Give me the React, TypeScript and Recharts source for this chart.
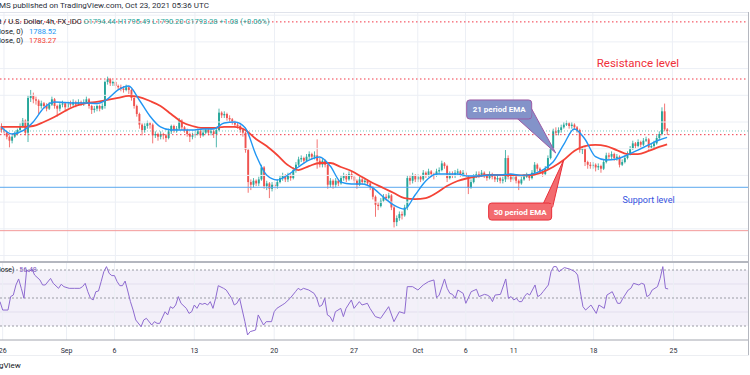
import React from 'react';
import { ComposedChart, Bar, Line, XAxis, YAxis, ReferenceLine, ReferenceArea, ReferenceDot } from 'recharts';

// ---- 4h candles (XAU/USD), Aug 25 .. Oct 22 2021 ----
const firstOpen = 1797;
const closes = [
  1794, 1792, 1789, 1786, 1789, 1791, 1794, 1797, 1801, 1792,
  1818, 1820, 1817, 1816, 1812, 1814, 1812, 1810, 1813, 1817,
  1812, 1810, 1813, 1814, 1811, 1814, 1813, 1815, 1813, 1815,
  1814, 1815, 1817, 1812, 1809, 1810, 1812, 1810, 1812, 1830,
  1832, 1829, 1830, 1827, 1826, 1825, 1824, 1826, 1824, 1818,
  1812, 1806, 1798, 1794, 1797, 1799, 1798, 1790, 1791, 1789,
  1791, 1790, 1788, 1793, 1797, 1794, 1795, 1801, 1796, 1794,
  1791, 1789, 1790, 1791, 1793, 1790, 1792, 1794, 1792, 1793,
  1791, 1794, 1807, 1805, 1806, 1803, 1802, 1800, 1798, 1797,
  1794, 1792, 1779, 1755, 1753, 1756, 1754, 1757, 1766, 1752,
  1754, 1750, 1753, 1752, 1755, 1758, 1760, 1757, 1760, 1758,
  1764, 1768, 1772, 1773, 1771, 1774, 1776, 1774, 1775, 1771,
  1768, 1771, 1768, 1753, 1756, 1753, 1756, 1754, 1758, 1760,
  1757, 1761, 1759, 1756, 1753, 1757, 1755, 1756, 1754, 1751,
  1744, 1738, 1737, 1741, 1744, 1743, 1745, 1736, 1725, 1728,
  1731, 1730, 1736, 1758, 1756, 1760, 1757, 1759, 1757, 1762,
  1760, 1763, 1761, 1760, 1763, 1764, 1769, 1767, 1758, 1761,
  1760, 1762, 1763, 1761, 1762, 1759, 1751, 1755, 1759, 1761,
  1760, 1762, 1760, 1758, 1761, 1759, 1757, 1758, 1756, 1757,
  1773, 1759, 1757, 1759, 1756, 1754, 1757, 1759, 1760, 1758,
  1762, 1768, 1765, 1763, 1761, 1765, 1773, 1780, 1793, 1792,
  1794, 1796, 1798, 1799, 1797, 1798, 1796, 1794, 1779, 1780,
  1770, 1768, 1767, 1768, 1766, 1767, 1765, 1770, 1775, 1774,
  1776, 1773, 1774, 1768, 1770, 1773, 1776, 1780, 1784, 1782,
  1785, 1783, 1786, 1787, 1781, 1782, 1784, 1788, 1791, 1808,
  1794.44, 1793.28,
];
const highs = [
  1799, 1796, 1793, 1790, 1790, 1793, 1795, 1799, 1803, 1802,
  1820, 1824, 1822, 1819, 1817, 1816, 1815, 1814, 1815, 1819,
  1818, 1813, 1815, 1816, 1815, 1816, 1816, 1817, 1816, 1817,
  1816, 1817, 1819, 1818, 1813, 1812, 1813, 1813, 1814, 1831,
  1834, 1833, 1831, 1831, 1828, 1828, 1827, 1828, 1827, 1825,
  1819, 1813, 1807, 1799, 1799, 1801, 1800, 1799, 1793, 1792,
  1793, 1792, 1791, 1795, 1798, 1798, 1797, 1803, 1802, 1797,
  1795, 1792, 1792, 1793, 1795, 1794, 1794, 1796, 1795, 1795,
  1794, 1796, 1810, 1808, 1808, 1807, 1805, 1803, 1801, 1800,
  1798, 1795, 1793, 1780, 1757, 1758, 1757, 1759, 1768, 1767,
  1756, 1755, 1755, 1755, 1757, 1760, 1762, 1761, 1762, 1761,
  1766, 1770, 1774, 1775, 1774, 1776, 1778, 1777, 1778, 1787,
  1773, 1773, 1772, 1769, 1758, 1757, 1758, 1757, 1760, 1762,
  1761, 1763, 1763, 1760, 1757, 1759, 1758, 1758, 1757, 1755,
  1752, 1745, 1740, 1743, 1746, 1746, 1747, 1746, 1737, 1730,
  1733, 1733, 1738, 1760, 1760, 1762, 1761, 1761, 1760, 1764,
  1763, 1765, 1764, 1762, 1765, 1766, 1771, 1770, 1768, 1763,
  1763, 1764, 1765, 1764, 1764, 1763, 1760, 1757, 1761, 1763,
  1763, 1764, 1763, 1761, 1763, 1762, 1760, 1760, 1759, 1759,
  1779, 1775, 1761, 1761, 1760, 1757, 1759, 1761, 1762, 1761,
  1764, 1770, 1769, 1766, 1764, 1767, 1775, 1782, 1795, 1796,
  1796, 1798, 1800, 1801, 1800, 1800, 1799, 1797, 1795, 1782,
  1781, 1771, 1770, 1770, 1769, 1769, 1768, 1772, 1777, 1777,
  1778, 1777, 1776, 1775, 1772, 1775, 1778, 1782, 1786, 1785,
  1787, 1786, 1788, 1789, 1788, 1784, 1786, 1790, 1793, 1811,
  1813.8, 1795.49,
];
const lows = [
  1792, 1790, 1787, 1781, 1784, 1788, 1790, 1793, 1796, 1790,
  1785, 1815, 1814, 1813, 1806, 1810, 1810, 1808, 1809, 1812,
  1810, 1804, 1808, 1811, 1809, 1810, 1811, 1812, 1811, 1812,
  1812, 1812, 1814, 1810, 1806, 1807, 1808, 1808, 1809, 1810,
  1828, 1827, 1827, 1825, 1824, 1823, 1822, 1823, 1821, 1816,
  1810, 1804, 1795, 1790, 1792, 1795, 1795, 1784, 1788, 1786,
  1787, 1787, 1785, 1787, 1791, 1792, 1792, 1794, 1794, 1792,
  1789, 1785, 1787, 1788, 1790, 1788, 1789, 1791, 1790, 1790,
  1788, 1781, 1793, 1803, 1803, 1801, 1800, 1798, 1796, 1795,
  1792, 1789, 1777, 1747, 1749, 1751, 1752, 1752, 1756, 1750,
  1749, 1743, 1748, 1749, 1750, 1754, 1756, 1755, 1755, 1756,
  1757, 1762, 1767, 1770, 1769, 1770, 1772, 1772, 1772, 1765,
  1766, 1766, 1766, 1750, 1751, 1750, 1751, 1752, 1753, 1756,
  1755, 1756, 1757, 1754, 1750, 1752, 1753, 1753, 1752, 1749,
  1742, 1729, 1734, 1736, 1740, 1741, 1742, 1734, 1721, 1722,
  1726, 1727, 1729, 1734, 1753, 1754, 1755, 1755, 1755, 1756,
  1758, 1759, 1759, 1757, 1759, 1761, 1763, 1765, 1755, 1757,
  1758, 1758, 1760, 1759, 1759, 1757, 1746, 1750, 1754, 1758,
  1758, 1759, 1758, 1756, 1757, 1757, 1755, 1755, 1754, 1754,
  1755, 1757, 1755, 1756, 1754, 1749, 1753, 1756, 1758, 1756,
  1757, 1761, 1763, 1761, 1759, 1760, 1764, 1772, 1779, 1790,
  1790, 1792, 1795, 1797, 1795, 1795, 1794, 1792, 1777, 1776,
  1767, 1765, 1765, 1765, 1763, 1764, 1762, 1764, 1769, 1772,
  1772, 1771, 1771, 1766, 1767, 1769, 1772, 1775, 1779, 1780,
  1781, 1781, 1782, 1785, 1779, 1779, 1780, 1783, 1787, 1790,
  1793, 1790.2,
];

// ---- EMA lines read at every 4th bar ----
const emaIdx = [
  0, 4, 8, 12, 16, 20, 24, 28, 32, 36, 40, 44, 48, 52, 56, 60, 64, 68, 72, 76,
  80, 84, 88, 92, 96, 100, 104, 108, 112, 116, 120, 124, 128, 132, 136, 140, 144, 148, 152, 156,
  160, 164, 168, 172, 176, 180, 184, 188, 192, 196, 200, 204, 208, 212, 216, 220, 224, 228, 232, 236,
  240, 244, 248, 251,
];
const ema21 = [
  1796.3, 1791, 1793.3, 1800, 1810.5, 1815, 1814.6, 1814.2, 1814.2, 1813.9, 1817.2, 1824, 1827, 1816.5, 1804.5, 1796.3, 1794, 1794, 1794, 1794.8,
  1794.8, 1799.3, 1800, 1795.5, 1775.3, 1760.3, 1756.6, 1760.3, 1766.3, 1771.5, 1773.8, 1767, 1755, 1753.6, 1753.6, 1750.6, 1743.8, 1737.8, 1734.8, 1745.3,
  1755.8, 1761, 1761, 1761, 1759.5, 1759.5, 1760.3, 1760.3, 1761, 1760, 1761, 1764, 1770, 1783, 1794.8, 1787.3, 1774, 1771.5, 1772.3, 1775.3,
  1779, 1782.8, 1786.5, 1788.52,
];
const ema50 = [
  1796.3, 1796.3, 1796.3, 1797, 1800, 1803.7, 1808.2, 1812, 1814.2, 1815, 1816.5, 1818, 1819.5, 1818.7, 1815.7, 1812, 1806, 1800, 1797, 1795.5,
  1795.5, 1796.3, 1796.3, 1794, 1787.3, 1782, 1775.3, 1767.8, 1764, 1767, 1769.3, 1769.3, 1766.3, 1763.3, 1758.8, 1754.3, 1750.6, 1746.8, 1743, 1742.3,
  1743, 1746.8, 1752, 1755.8, 1758, 1759.5, 1760.3, 1760.3, 1760.3, 1760, 1760.3, 1762.5, 1766.3, 1771.5, 1778.3, 1782, 1782.8, 1782, 1779, 1776,
  1776, 1778.3, 1781.3, 1783.27,
];

// ---- RSI(14) ----
const rsiIdx = [
  0, 1, 3, 4, 5, 6, 7, 8, 9, 10, 11, 12, 13, 15, 16, 17, 19, 20, 22, 23, 24, 26, 28, 30, 31, 32, 33, 34, 35, 36,
  37, 38, 39, 40, 41, 42, 43, 44, 45, 46, 47, 48, 49, 50, 51, 53, 54, 55, 57, 58, 59, 60, 62, 63, 64, 65, 66, 67, 68, 70,
  71, 72, 73, 74, 75, 76, 77, 78, 79, 80, 81, 82, 84, 85, 87, 88, 89, 90, 91, 92, 93, 94, 96, 97, 98, 99, 100, 102, 103, 104,
  106, 107, 109, 111, 112, 113, 114, 116, 118, 119, 120, 121, 122, 123, 124, 125, 126, 128, 129, 130, 132, 133, 135, 136, 138, 139, 141, 143, 146, 148,
  150, 152, 153, 155, 157, 159, 161, 163, 164, 165, 167, 168, 169, 170, 171, 172, 174, 175, 177, 179, 180, 182, 183, 184, 185, 186, 188, 190, 191, 192,
  193, 194, 195, 196, 197, 198, 199, 201, 202, 203, 204, 206, 207, 208, 209, 210, 212, 214, 216, 217, 218, 219, 220, 222, 224, 225, 227, 228, 230, 232,
  233, 234, 236, 237, 238, 240, 241, 242, 243, 244, 245, 247, 248, 249, 250, 251,
];
const rsiVals = [
  47.4, 41.4, 41.4, 51, 52.1, 59.3, 63.6, 56.9, 49.8, 70, 68.8, 70.7, 66.4, 62.9, 59.3, 59.3, 64, 60.5, 56.9, 59.8, 58.1, 56.9, 56.9, 56.9, 58.1, 60.5, 54.5, 49.8, 48.6, 54.5,
  55, 61.7, 68.8, 72.4, 67.6, 66, 66, 61.7, 58.8, 58.8, 62.1, 55, 47.4, 41.4, 34.3, 29.5, 34.3, 35.5, 30.7, 33.1, 31.9, 31.9, 40.2, 37.9, 43.8, 42.6, 45, 51, 46.2, 42.6,
  39, 40.2, 45, 42.6, 46.2, 45.5, 46.2, 45, 47.4, 42.6, 49.8, 58.8, 56.9, 55.7, 49.8, 45, 46.2, 49.8, 41.4, 33.1, 23.6, 26, 27.1, 37.9, 34.3, 30.7, 33.1, 33.1, 40.2, 42.6,
  45, 46.2, 49.8, 54.5, 56.9, 55.7, 56.9, 55.7, 53.3, 49.8, 43.8, 45, 49.8, 37.9, 36.7, 33.1, 40.2, 42.6, 36.7, 42.6, 48.6, 42.6, 47.4, 45, 46.2, 42.6, 36.7, 35.5, 43.8, 33.1,
  40.2, 39, 58.1, 58.1, 55.7, 59.3, 61.7, 62.9, 50.2, 52.1, 63.6, 56.9, 53.3, 52.6, 49.8, 55.7, 53.3, 46.2, 54.5, 56.2, 51, 52.6, 52.1, 51, 47.4, 52.1, 52.6, 63.6, 49.8, 51,
  48.6, 49.8, 47.4, 47.4, 51, 53.3, 52.1, 59.3, 51, 52.1, 54.5, 59.3, 68.8, 72.4, 72.4, 68.8, 71.7, 70.7, 68.8, 66.4, 54.5, 43.8, 41.4, 45, 39, 45, 42.6, 52.1, 54.5, 46.2,
  46.2, 49.8, 55.7, 56.9, 60.5, 59.3, 60.5, 59.8, 51, 52.1, 55.7, 58.1, 64, 72.4, 56.9, 56.48,
];

// ---- axis ----
const totalSlots = 282;
const tickIdx = [1, 25, 43, 73, 103, 133, 157, 175, 193, 223, 253];
const tickLabels = ['26', 'Sep', '6', '13', '20', '27', 'Oct', '6', '11', '18', '25'];

// ---- levels ----
const priceMin = 1695.88;
const priceMax = 1881.65;
const priceGrid = [1700, 1720, 1740, 1760, 1780, 1800, 1820, 1840, 1860, 1880];
const topDotted = 1875;
const resistance = 1832.2;
const drawnDotted = 1790.5;
const lastPrice = 1793.28;
const support = 1751.1;
const lowerLine = 1718.6;
const rsiBands = [30, 50, 70];
const rsiGrid = [40, 60];

const UP = '#26a69a';
const DOWN = '#ef5350';

const rows: any[] = Array.from({ length: totalSlots }, (_, i) => {
  const r: any = { idx: i };
  if (i < closes.length) {
    r.o = i === 0 ? firstOpen : closes[i - 1];
    r.c = closes[i];
    r.h = highs[i];
    r.l = lows[i];
    r.range = [lows[i], highs[i]];
  }
  return r;
});
emaIdx.forEach((b, k) => { rows[b].e21 = ema21[k]; rows[b].e50 = ema50[k]; });
rsiIdx.forEach((b, k) => { rows[b].rsi = rsiVals[k]; });

const labelOf: Record<number, string> = {};
tickIdx.forEach((t, k) => { labelOf[t] = tickLabels[k]; });

const Candle = (props: any) => {
  let { x, y, width, height, payload } = props;
  if (!payload || payload.o == null || !height) return null;
  if (height < 0) { y += height; height = -height; }
  const { o, c, h, l } = payload;
  const k = height / (h - l);
  const color = c >= o ? UP : DOWN;
  const cx = x + width / 2;
  const top = y + (h - Math.max(o, c)) * k;
  const bot = y + (h - Math.min(o, c)) * k;
  const bw = 1.9;
  return (
    <g>
      <line x1={cx} x2={cx} y1={y} y2={y + height} stroke={color} strokeWidth={0.8} />
      <rect x={cx - bw / 2} y={top} width={bw} height={Math.max(0.8, bot - top)} fill={color} />
    </g>
  );
};

const Callout21 = (p: any) => {
  const { cx, cy } = p;
  if (cx == null) return null;
  const bx = cx - 89, by = cy - 53;
  return (
    <g>
      <polygon points={`${cx - 39},${cy - 35} ${cx},${cy} ${cx - 24},${cy - 44}`} fill="#8393c9" stroke="#9b5aa5" strokeWidth={1} />
      <rect x={bx} y={by} width={65} height={19} rx={3} fill="#8393c9" stroke="#9b5aa5" strokeWidth={1} />
      <polygon points={`${cx - 39.5},${cy - 35} ${cx - 24},${cy - 43.5} ${cx - 24.5},${cy - 35.5}`} fill="#8393c9" />
      <text x={bx + 32.5} y={by + 12.5} textAnchor="middle" fontSize={8} fontWeight={700} fill="#ffffff" fontFamily="Roboto, sans-serif">21 period EMA</text>
    </g>
  );
};

const Callout50 = (p: any) => {
  const { cx, cy } = p;
  if (cx == null) return null;
  const bx = cx - 75, by = cy + 43;
  return (
    <g>
      <polygon points={`${cx - 21},${cy + 45} ${cx},${cy} ${cx - 11},${cy + 47}`} fill="#f36b6f" stroke="#e8303a" strokeWidth={1} />
      <rect x={bx} y={by} width={63} height={17} rx={3} fill="#f36b6f" stroke="#e8303a" strokeWidth={1} />
      <polygon points={`${cx - 21.5},${cy + 44} ${cx - 10.5},${cy + 44} ${cx - 11},${cy + 47}`} fill="#f36b6f" />
      <text x={bx + 31.5} y={by + 11.5} textAnchor="middle" fontSize={8} fontWeight={700} fill="#ffffff" fontFamily="Roboto, sans-serif">50 period EMA</text>
    </g>
  );
};

const textShape = (label: string, color: string, size: number) => (p: any) => {
  const { cx, cy } = p;
  if (cx == null) return null;
  return (
    <text x={cx} y={cy} dy="0.35em" textAnchor="middle" fontSize={size} fill={color} fontFamily="Roboto, sans-serif">{label}</text>
  );
};

const GRID = '#eceff5';
const font = 'Roboto, "Liberation Sans", sans-serif';

export default function App() {
  return (
    <div style={{ position: 'fixed', left: 0, top: 0, width: 750, height: 375, background: '#ffffff', overflow: 'hidden', fontFamily: font }}>
      <div style={{ position: 'absolute', left: -1, top: 1, fontSize: 8, color: '#2a2e39', whiteSpace: 'nowrap', lineHeight: '10px' }}>
        MS published on TradingView.com, Oct 23, 2021 05:36 UTC
      </div>
      <div style={{ position: 'absolute', left: 0, top: 12, width: 749, height: 1, background: '#e0e3eb' }} />

      <div style={{ position: 'absolute', left: 0, top: 13 }}>
        <ComposedChart width={750} height={248} data={rows} margin={{ top: 0, right: 2, bottom: 0, left: 0 }} barCategoryGap={0} barGap={0}>
          <XAxis dataKey="idx" hide />
          <YAxis hide type="number" domain={[priceMin, priceMax]} allowDataOverflow />
          {priceGrid.map((v) => <ReferenceLine key={'h' + v} y={v} stroke={GRID} strokeWidth={1} />)}
          {tickIdx.map((v) => <ReferenceLine key={'v' + v} x={v} stroke={GRID} strokeWidth={1} />)}
          <ReferenceLine y={topDotted} stroke="#f23645" strokeWidth={1} strokeDasharray="1.5 2.5" />
          <ReferenceLine y={resistance} stroke="#f23645" strokeWidth={1} strokeDasharray="1.5 2.5" />
          <ReferenceLine y={lastPrice} stroke="#26a69a" strokeOpacity={0.6} strokeWidth={1} strokeDasharray="1 2" />
          <ReferenceLine y={drawnDotted} stroke="#f23645" strokeWidth={1} strokeDasharray="1.5 2.5" />
          <ReferenceLine y={support} stroke="#5aa7ee" strokeWidth={1} />
          <ReferenceLine y={lowerLine} stroke="#f39a9a" strokeWidth={1} />
          <Bar dataKey="range" shape={Candle} isAnimationActive={false} />
          <Line dataKey="e50" type="monotone" stroke="#f44336" strokeWidth={1.8} dot={false} connectNulls isAnimationActive={false} />
          <Line dataKey="e21" type="monotone" stroke="#2196f3" strokeWidth={1.4} dot={false} connectNulls isAnimationActive={false} />
          <ReferenceDot x={240} y={1844.2} r={1} shape={textShape('Resistance level', '#f0303a', 11.5)} />
          <ReferenceDot x={244} y={1742} r={1} shape={textShape('Support level', '#3451e0', 9)} />
          <ReferenceDot x={209} y={1776.8} r={1} shape={Callout21} />
          <ReferenceDot x={212} y={1771.5} r={1} shape={Callout50} />
        </ComposedChart>
      </div>

      <div style={{ position: 'absolute', left: -1, top: 17, fontSize: 7.5, lineHeight: '10px', whiteSpace: 'nowrap', color: '#131722' }}>
        <span>t / U.S. Dollar, 4h, FX_IDC </span>
        <span style={{ color: '#26a69a' }}> O</span><span style={{ color: '#26a69a' }}>1794.44</span>
        <span style={{ color: '#26a69a' }}> H</span><span style={{ color: '#26a69a' }}>1795.49</span>
        <span style={{ color: '#26a69a' }}> L</span><span style={{ color: '#26a69a' }}>1790.20</span>
        <span style={{ color: '#26a69a' }}> C</span><span style={{ color: '#26a69a' }}>1793.28</span>
        <span style={{ color: '#26a69a' }}> +1.08 (+0.06%)</span>
      </div>
      <div style={{ position: 'absolute', left: -1, top: 27, fontSize: 7.5, lineHeight: '10px', whiteSpace: 'nowrap', color: '#131722' }}>
        lose, 0) <span style={{ color: '#2196f3', marginLeft: 4 }}>1788.52</span>
      </div>
      <div style={{ position: 'absolute', left: -1, top: 36, fontSize: 7.5, lineHeight: '10px', whiteSpace: 'nowrap', color: '#131722' }}>
        lose, 0) <span style={{ color: '#f44336', marginLeft: 4 }}>1783.27</span>
      </div>

      <div style={{ position: 'absolute', left: 0, top: 261, width: 749, height: 2, background: '#b4b7bf' }} />

      <div style={{ position: 'absolute', left: 0, top: 263 }}>
        <ComposedChart width={750} height={92} data={rows} margin={{ top: 0, right: 2, bottom: 0, left: 0 }}>
          <XAxis
            dataKey="idx"
            ticks={tickIdx}
            interval={0}
            tickFormatter={(v: any) => labelOf[v] ?? ''}
            tickLine={false}
            axisLine={{ stroke: '#a3a6af' }}
            tick={{ fontSize: 7, fill: '#2a2e39', fontFamily: font }}
            tickMargin={2}
            height={15}
          />
          <YAxis hide type="number" domain={[20, 75]} allowDataOverflow />
          <ReferenceArea y1={30} y2={70} fill="#7e57c2" fillOpacity={0.09} stroke="none" />
          {rsiGrid.map((v) => <ReferenceLine key={'rg' + v} y={v} stroke="#e3dfee" strokeWidth={1} />)}
          {tickIdx.map((v) => <ReferenceLine key={'rv' + v} x={v} stroke={GRID} strokeWidth={1} />)}
          {rsiBands.map((v) => <ReferenceLine key={'rb' + v} y={v} stroke="#9a9ca5" strokeWidth={1} strokeDasharray="2 2" />)}
          <Line dataKey="rsi" type="linear" stroke="#8e6bd0" strokeWidth={1} dot={false} connectNulls isAnimationActive={false} />
        </ComposedChart>
      </div>
      <div style={{ position: 'absolute', left: -1, top: 265, fontSize: 7, lineHeight: '10px', whiteSpace: 'nowrap', color: '#131722' }}>
        lose) <span style={{ color: '#7e57c2', marginLeft: 3 }}>56.48</span>
      </div>

      <div style={{ position: 'absolute', left: 748, top: 12, width: 1, height: 343, background: '#b4b7bf' }} />
      <div style={{ position: 'absolute', left: 0, top: 355, width: 749, height: 1, background: '#eceef2' }} />
      <div style={{ position: 'absolute', left: -1, top: 361, fontSize: 8, lineHeight: '10px', color: '#131722', whiteSpace: 'nowrap' }}>
        gView
      </div>
    </div>
  );
}
